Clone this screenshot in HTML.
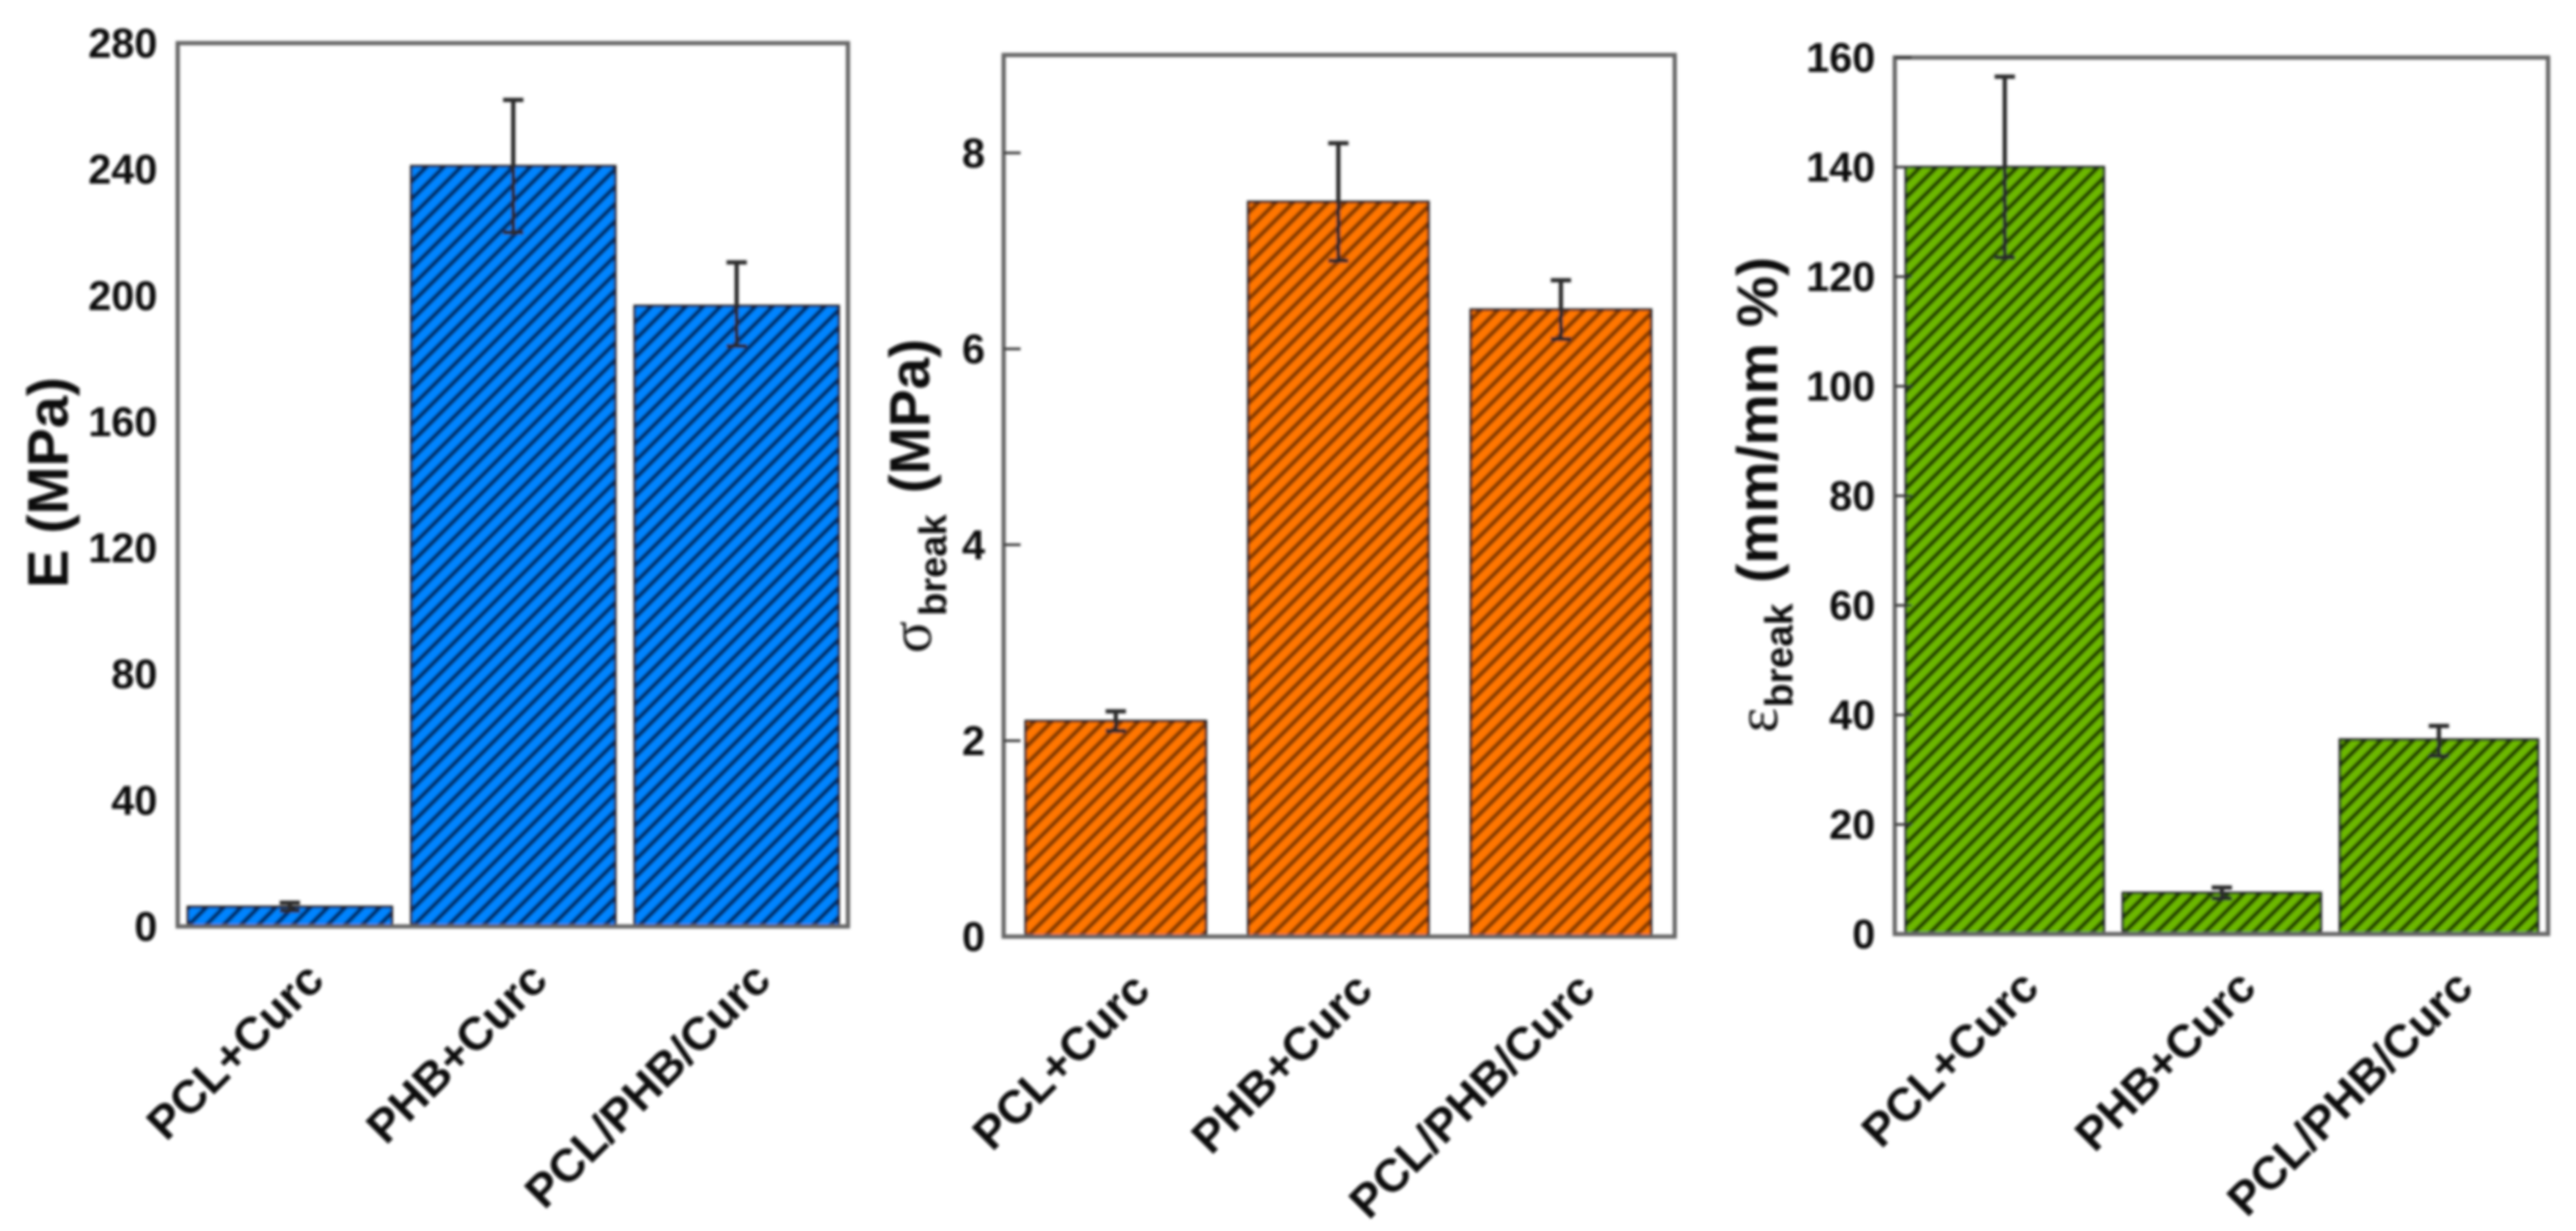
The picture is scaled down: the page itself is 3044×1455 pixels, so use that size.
<!DOCTYPE html>
<html lang="en">
<head>
<meta charset="utf-8">
<title>Mechanical properties bar charts</title>
<style>
html,body{margin:0;padding:0;background:#fff;}
body{width:3044px;height:1455px;overflow:hidden;}
svg{display:block;}
text{font-family:"Liberation Sans",Arial,sans-serif;fill:#0a0a0a;}
</style>
</head>
<body>
<svg id="figure" width="3044" height="1455" viewBox="0 0 3044 1455" xmlns="http://www.w3.org/2000/svg">
  <defs>
    <filter id="soft" x="-2%" y="-2%" width="104%" height="104%"><feGaussianBlur stdDeviation="1.5"/></filter>
    <pattern id="hatch-blue" width="14.5" height="14.5" patternUnits="userSpaceOnUse" patternTransform="rotate(-45)">
      <rect width="14.5" height="14.5" fill="#0084ff"/><rect width="14.5" height="5.5" fill="#06306e"/>
    </pattern>
    <pattern id="hatch-orange" width="14.5" height="14.5" patternUnits="userSpaceOnUse" patternTransform="rotate(-45)">
      <rect width="14.5" height="14.5" fill="#ff7600"/><rect width="14.5" height="5.5" fill="#8a3c00"/>
    </pattern>
    <pattern id="hatch-green" width="13.5" height="13.5" patternUnits="userSpaceOnUse" patternTransform="rotate(-45)">
      <rect width="13.5" height="13.5" fill="#6cb800"/><rect width="13.5" height="5.5" fill="#284a00"/>
    </pattern>
  </defs>
  <g id="root" filter="url(#soft)">
    <g>
      <text transform="translate(80,695) rotate(-90)" font-size="68" font-weight="700">E (MPa)</text>
    </g>
    <g transform="translate(1100,772) rotate(-90)">
      <text font-size="70" style="font-family:'Liberation Serif',serif">σ</text>
      <text x="44" y="18" font-size="45" font-weight="700">break</text>
      <text x="189" y="-2" font-size="67" font-weight="700">(MPa)</text>
    </g>
    <g transform="translate(2100,866) rotate(-90)">
      <text font-size="70" style="font-family:'Liberation Serif',serif">ε</text>
      <text x="30" y="18" font-size="46" font-weight="700">break</text>
      <text x="177" y="0" font-size="68" font-weight="700">(mm/mm %)</text>
    </g>
  </g>
</svg>
<script>
const categories = ["PCL+Curc", "PHB+Curc", "PCL/PHB/Curc"];

const modulusValues = [6.2, 241, 196.7];
const modulusErrLow = [5, 220, 184];
const modulusErrHigh = [7.5, 262, 210.5];
const modulusTicks = [0, 40, 80, 120, 160, 200, 240, 280];

const stressValues = [2.2, 7.5, 6.4];
const stressErrLow = [2.1, 6.9, 6.1];
const stressErrHigh = [2.3, 8.1, 6.7];
const stressTicks = [0, 2, 4, 6, 8];

const strainValues = [140, 7.5, 35.5];
const strainErrLow = [123.5, 6.5, 32.5];
const strainErrHigh = [156.5, 8.5, 38];
const strainTicks = [0, 20, 40, 60, 80, 100, 120, 140, 160];

const panels = [
  {key:'modulus', values:modulusValues, low:modulusErrLow, high:modulusErrHigh, ticks:modulusTicks,
   yMax:280, left:210, right:1002, top:51, bottom:1095, barStart:222, barStep:264, barWidth:241,
   hatch:'hatch-blue', showTicks:false, textRight:186},
  {key:'stress', values:stressValues, low:stressErrLow, high:stressErrHigh, ticks:stressTicks,
   yMax:9, left:1186, right:1979, top:65, bottom:1107, barStart:1212, barStep:263, barWidth:213,
   hatch:'hatch-orange', showTicks:true, textRight:1164},
  {key:'strain', values:strainValues, low:strainErrLow, high:strainErrHigh, ticks:strainTicks,
   yMax:160, left:2239, right:3011, top:68, bottom:1104, barStart:2252, barStep:256.5, barWidth:234,
   hatch:'hatch-green', showTicks:true, textRight:2216}
];

const NS = 'http://www.w3.org/2000/svg';
const root = document.getElementById('root');

function make(tag, attrs, parent) {
  const el = document.createElementNS(NS, tag);
  for (const k in attrs) el.setAttribute(k, attrs[k]);
  parent.appendChild(el);
  return el;
}

panels.forEach(function (p) {
  const g = make('g', {}, root);
  
  

  const yScale = function (v) { return p.bottom - v * (p.bottom - p.top) / p.yMax; };
  const xLeft = function (i) { return p.barStart + i * p.barStep; };
  const xCenter = function (i) { return xLeft(i) + p.barWidth / 2; };

  categories.forEach(function (name, i) {
    const y = yScale(p.values[i]);
    const bar = make('rect', {x:xLeft(i), y:y, width:p.barWidth, height:p.bottom - y,
      fill:'url(#' + p.hatch + ')', stroke:'#1c1c1c', 'stroke-width':3}, g);
    
    

    const cx = xCenter(i), hi = yScale(p.high[i]), lo = yScale(p.low[i]);
    const err = make('path', {d:'M' + cx + ' ' + hi + 'V' + lo + 'M' + (cx - 12) + ' ' + hi + 'H' + (cx + 12) +
      'M' + (cx - 12) + ' ' + lo + 'H' + (cx + 12), fill:'none', stroke:'#2a2a2a', 'stroke-width':5}, g);
    
    

    const label = make('text', {'text-anchor':'end', 'font-size':55, 'font-weight':700,
      transform:'translate(' + (cx + 43) + ',' + (p.bottom + 66) + ') rotate(-45)'}, g);
    label.textContent = name;
    
    
  });

  const frame = make('rect', {x:p.left, y:p.top, width:p.right - p.left, height:p.bottom - p.top,
    fill:'none', stroke:'#666', 'stroke-width':5}, g);
  
  

  p.ticks.forEach(function (t) {
    const y = yScale(t);
    if (p.showTicks && t !== 0) {
      const tick = make('line', {x1:p.left, x2:p.left + 20, y1:y, y2:y, stroke:'#333', 'stroke-width':3}, g);
      
      
    }
    const txt = make('text', {x:p.textRight, y:y + 17, 'text-anchor':'end', 'font-size':49, 'font-weight':700}, g);
    txt.textContent = t;
    
    
  });
});
</script>
</body>
</html>
